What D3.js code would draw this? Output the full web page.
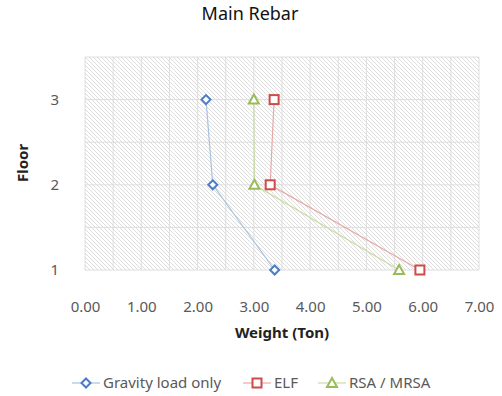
<!DOCTYPE html>
<html><head><meta charset="utf-8">
<script src="https://cdn.jsdelivr.net/npm/d3@7"></script>
<style>body{margin:0;background:#fff;font-family:"Noto Sans",sans-serif}</style>
</head><body><svg id="c" width="502" height="396"></svg>
<script>
const floors = [3, 2, 1];
const gravity = [2.15, 2.27, 3.37];
const elf = [3.36, 3.29, 5.95];
const rsa = [3.0, 3.01, 5.58];
const xTicks = [0, 1, 2, 3, 4, 5, 6, 7];
const yTicks = [1, 2, 3];
const seriesNames = ["Gravity load only", "ELF", "RSA / MRSA"];

const svg = d3.select("#c");
const m = {l: 85, r: 479, t: 57, b: 270};
const x = d3.scaleLinear().domain([0, 7]).range([m.l, m.r]);
const y = d3.scaleLinear().domain([1, 3.5]).range([m.b, m.t]);

const defs = svg.append("defs");
const pat = defs.append("pattern").attr("id", "hatch").attr("patternUnits", "userSpaceOnUse")
  .attr("width", 4).attr("height", 4);
pat.append("rect").attr("width", 4).attr("height", 4).attr("fill", "#fff");
pat.append("path").attr("d", "M-1,-1 L5,5 M-1,3 L1,5 M3,-1 L5,1").attr("stroke", "#d4d4d4").attr("stroke-width", 0.8);

svg.append("rect").attr("x", m.l).attr("y", m.t).attr("width", m.r - m.l).attr("height", m.b - m.t).attr("fill", "url(#hatch)");

const gx = d3.range(0, 7.01, 0.5), gy = d3.range(1, 3.51, 0.5);
svg.append("g").selectAll("line").data(gx).join("line")
  .attr("x1", d => x(d)).attr("x2", d => x(d)).attr("y1", m.t).attr("y2", m.b)
  .attr("stroke", "#dedede").attr("stroke-width", 1);
svg.append("g").selectAll("line").data(gy).join("line")
  .attr("x1", m.l).attr("x2", m.r).attr("y1", d => y(d)).attr("y2", d => y(d))
  .attr("stroke", "#dedede").attr("stroke-width", 1);

const xa = svg.append("g").attr("transform", `translate(0,${m.b + 28})`)
  .call(d3.axisBottom(x).tickValues(xTicks).tickFormat(d3.format(".2f")).tickSize(0));
xa.select(".domain").remove();
xa.selectAll("text").attr("fill", "#595959").attr("font-size", 15).attr("font-family", "Noto Sans");

const ya = svg.append("g").attr("transform", `translate(${m.l - 23},0)`)
  .call(d3.axisLeft(y).tickValues(yTicks).tickFormat(d3.format("d")).tickSize(0));
ya.select(".domain").remove();
ya.selectAll("text").attr("fill", "#595959").attr("font-size", 15).attr("font-family", "Noto Sans").attr("dy", "0.32em");

svg.append("text").attr("x", 250).attr("y", 20).attr("text-anchor", "middle")
  .attr("font-size", 18).attr("fill", "#111").text("Main Rebar");
svg.append("text").attr("x", 282).attr("y", 338).attr("text-anchor", "middle")
  .attr("font-size", 15).attr("font-weight", "bold").attr("fill", "#222").text("Weight (Ton)");
svg.append("text").attr("transform", "translate(28,163) rotate(-90)").attr("text-anchor", "middle")
  .attr("font-size", 15).attr("font-weight", "bold").attr("fill", "#222").text("Floor");

const series = [
  {name: seriesNames[0], vals: gravity, line: "#a9c1e3", stroke: "#4a7cc5", shape: "diamond"},
  {name: seriesNames[1], vals: elf, line: "#e7a9a7", stroke: "#cd4b48", shape: "square"},
  {name: seriesNames[2], vals: rsa, line: "#c9dca4", stroke: "#9bbb59", shape: "triangle"}
];
function marker(g, shape, cx, cy, col) {
  if (shape === "diamond") g.append("path").attr("d", `M${cx},${cy-4.5}L${cx+4.5},${cy}L${cx},${cy+4.5}L${cx-4.5},${cy}Z`);
  else if (shape === "square") g.append("rect").attr("x", cx-4.5).attr("y", cy-4.5).attr("width", 9).attr("height", 9);
  else g.append("path").attr("d", `M${cx},${cy-5}L${cx+5},${cy+4}L${cx-5},${cy+4}Z`);
  g.selectAll(":scope > *").attr("fill", "#fff").attr("stroke", col).attr("stroke-width", 2);
}
const line = d3.line().x(d => x(d[0])).y(d => y(d[1]));
series.forEach(s => {
  const pts = s.vals.map((v, i) => [v, floors[i]]);
  svg.append("path").attr("d", line(pts)).attr("fill", "none").attr("stroke", s.line).attr("stroke-width", 1.2);
  pts.forEach(p => marker(svg.append("g"), s.shape, x(p[0]), y(p[1]), s.stroke));
});

const legX = [72, 243, 318];
series.forEach((s, i) => {
  const ly = 383;
  svg.append("line").attr("x1", legX[i]).attr("x2", legX[i] + 28).attr("y1", ly).attr("y2", ly)
    .attr("stroke", s.line).attr("stroke-width", 1.2);
  marker(svg.append("g"), s.shape, legX[i] + 14, ly, s.stroke);
  svg.append("text").attr("x", legX[i] + 31).attr("y", ly + 5).attr("font-size", 15)
    .attr("fill", "#595959").text(s.name);
});
</script></body></html>
